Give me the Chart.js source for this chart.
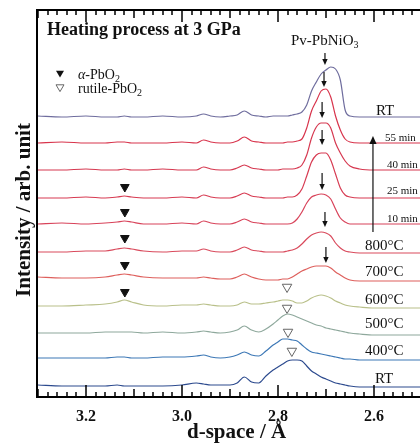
<!DOCTYPE html>
<html>
<head>
<meta charset="utf-8">
<script src="https://cdn.jsdelivr.net/npm/chart.js@4.4.1/dist/chart.umd.min.js"></script>
<style>
  html, body { margin: 0; padding: 0; background: #fff; overflow: hidden; }
  #chart { display: block; }
</style>
</head>
<body>
<canvas id="chart" width="420" height="445"></canvas>
<script>
const dSpace = [3.30, 3.25, 3.20, 3.16, 3.135, 3.12, 3.105, 3.08, 3.04, 3.00, 2.97,
  2.955, 2.94, 2.92, 2.90, 2.885, 2.87, 2.855, 2.84, 2.825, 2.81, 2.80, 2.79, 2.78,
  2.77, 2.76, 2.75, 2.74, 2.73, 2.72, 2.71, 2.70, 2.69, 2.68, 2.67, 2.66, 2.65,
  2.63, 2.60, 2.55, 2.50];

// top to bottom
const traceLabels = ['RT', '55 min', '40 min', '25 min', '10 min', '800°C', '700°C', '600°C', '500°C', '400°C', 'RT'];
const traceOffsets = [280, 254, 227, 199, 173, 145, 118, 91, 64, 39, 11];

const rtAfter = [1, 0, 1, 0, 0, 1, 0, 0, 1, 0, 1, 3, 1, 0, 1, 2, 6, 2, 1, 0, 1, 1, 1, 1, 2, 3, 5, 12, 26, 35, 43, 47, 50, 48, 37, 7, 1, 0, 0, 0, 0];
const min55 = [0, 1, 0, 0, 1, 1, 0, 0, 0, 1, 0, 3, 1, 0, 0, 2, 6, 2, 1, 0, 0, 0, 0, 1, 1, 2, 4, 15, 32, 42, 52, 54, 46, 27, 13, 4, 1, 0, 0, 0, 0];
const min40 = [0, 0, 1, 0, 0, 1, 0, 0, 1, 0, 0, 3, 1, 0, 0, 2, 5, 2, 1, 0, 0, 0, 1, 1, 1, 2, 5, 15, 32, 43, 47, 47, 42, 27, 17, 9, 4, 1, 0, 0, 0];
const min25 = [0, 0, 1, 0, 1, 2, 1, 0, 0, 1, 0, 3, 1, 0, 0, 2, 5, 2, 1, 0, 0, 0, 0, 1, 1, 3, 9, 22, 36, 43, 45, 45, 38, 24, 10, 3, 1, 0, 0, 0, 0];
const min10 = [0, 1, 0, 1, 2, 3, 2, 0, 0, 1, 0, 3, 1, 0, 0, 2, 5, 2, 1, 0, 0, 0, 0, 0, 1, 5, 12, 21, 27, 29, 30, 29, 25, 15, 6, 2, 0, 0, 0, 0, 0];
const t800 = [0, 0, 1, 1, 3, 4, 3, 1, 0, 1, 1, 3, 1, 0, 0, 2, 5, 2, 1, 0, 0, 0, 0, 1, 2, 4, 8, 13, 17, 19, 20, 19, 16, 9, 4, 1, 0, -1, -1, -1, -1];
const t700 = [2, 1, 1, 2, 4, 5, 4, 2, 1, 1, 1, 2, 1, 0, 0, 2, 5, 2, 0, -1, -1, -1, 0, 0, 2, 5, 8, 10, 12, 13, 13, 13, 11, 7, 4, 1, -1, -2, -2, -2, -2];
const t600 = [0, 0, 1, 2, 4, 6, 4, 1, 0, 1, 1, 2, 1, 0, 0, 1, 4, 2, 2, 3, 4, 5, 6, 6, 5, 3, 3, 5, 8, 10, 11, 10, 8, 5, 3, 1, 0, -1, -2, -2, -2];
const t500 = [0, 0, 0, 1, 1, 1, 1, 0, 1, 0, 1, 2, 1, 0, 1, 3, 7, 3, 1, 4, 9, 13, 17, 19, 18, 16, 14, 12, 10, 8, 7, 5, 4, 3, 2, 1, 0, -1, -2, -2, -2];
const t400 = [0, 0, 0, 0, 1, 1, 0, 0, 1, 1, 2, 3, 1, 0, 1, 3, 6, 3, 2, 7, 13, 16, 19, 19, 18, 17, 13, 9, 6, 5, 4, 3, 2, 1, 0, -1, -1, -2, -2, -2, -2];
const rtStart = [1, 0, 0, 0, 1, 0, 0, 0, 0, 1, 3, 2, 1, 1, 1, 3, 9, 4, 3, 10, 16, 19, 22, 25, 26, 26, 25, 20, 15, 12, 9, 7, 5, 3, 2, 1, 0, -1, -1, -1, -1];

const traceValues = [rtAfter, min55, min40, min25, min10, t800, t700, t600, t500, t400, rtStart];
const traceColors = ['#6f6d9e', '#d8344c', '#d63850', '#d73b52', '#d8435a', '#d94a5c', '#de5f5c', '#b9c08a', '#8ea89c', '#3d78b6', '#2c4a8e'];

const xTickLabels = [3.2, 3.0, 2.8, 2.6];

// peak markers
const alphaPeakD = [3.119, 3.119, 3.119, 3.119, 3.119];
const alphaMarkY = [210, 185, 159, 132, 105];
const rutilePeakD = [2.781, 2.781, 2.779, 2.771];
const rutileMarkY = [110, 89, 65, 46];
// Pv-PbNiO3 arrows (tail -> tip)
const pvArrowD = [2.702, 2.704, 2.708, 2.708, 2.708, 2.702, 2.700];
const pvArrowTail = [344, 325, 295, 267, 224, 185, 150];
const pvArrowTip = [332, 310, 279, 252, 207, 170, 134];

const SERIF = '"Liberation Serif", "Times New Roman", serif';

function drawRuns(ctx, x, y, runs) {
  runs.forEach(r => {
    ctx.font = r.font;
    ctx.fillText(r.text, x, y + (r.dy || 0));
    x += ctx.measureText(r.text).width;
  });
}

function arrow(ctx, x, y1, y2, head) {
  const dir = y2 > y1 ? 1 : -1;
  ctx.beginPath();
  ctx.moveTo(x, y1);
  ctx.lineTo(x, y2 - dir * head);
  ctx.stroke();
  ctx.beginPath();
  ctx.moveTo(x, y2);
  ctx.lineTo(x - head * 0.45, y2 - dir * head);
  ctx.lineTo(x + head * 0.45, y2 - dir * head);
  ctx.closePath();
  ctx.fill();
}

function downTriangle(ctx, cx, cy, w, filled) {
  ctx.beginPath();
  ctx.moveTo(cx - w / 2, cy - w * 0.4);
  ctx.lineTo(cx + w / 2, cy - w * 0.4);
  ctx.lineTo(cx, cy + w * 0.45);
  ctx.closePath();
  if (filled) ctx.fill(); else ctx.stroke();
}

const decorations = {
  id: 'decorations',
  afterDatasetsDraw(chart) {
    const { ctx, chartArea: a, scales: { x, y } } = chart;
    ctx.save();
    ctx.fillStyle = '#000';

    // top frame line
    ctx.fillRect(a.left - 1, a.top - 1, 420 - a.left + 1, 2);

    // inward ticks every 0.02, top and bottom
    const k0 = Math.ceil(x.min * 50), k1 = Math.floor(x.max * 50);
    for (let k = k0; k <= k1; k++) {
      const len = k % 10 === 0 ? 12 : (k % 5 === 0 ? 8 : 5);
      const px = Math.round(x.getPixelForValue(k / 50));
      ctx.fillRect(px - 0.75, a.bottom - len, 1.5, len);
      ctx.fillRect(px - 0.75, a.top, 1.5, len);
    }

    // tick labels
    ctx.fillStyle = '#111';
    ctx.textAlign = 'center';
    ctx.textBaseline = 'alphabetic';
    ctx.font = `bold 16px ${SERIF}`;
    xTickLabels.forEach(v => ctx.fillText(v.toFixed(1), x.getPixelForValue(v), 421));

    // Pv arrows
    ctx.strokeStyle = '#111';
    ctx.lineWidth = 1.2;
    pvArrowD.forEach((d, i) => {
      arrow(ctx, x.getPixelForValue(d), y.getPixelForValue(pvArrowTail[i]), y.getPixelForValue(pvArrowTip[i]), 6);
    });
    // time arrow
    arrow(ctx, x.getPixelForValue(2.602), y.getPixelForValue(165), y.getPixelForValue(261), 8);

    // legend symbols
    downTriangle(ctx, 60, 74, 8, true);
    ctx.strokeStyle = '#666';
    ctx.lineWidth = 1;
    downTriangle(ctx, 60, 88, 8, false);

    // texts
    ctx.textAlign = 'left';
    drawRuns(ctx, 47, 35, [{ text: 'Heating process at 3 GPa', font: `bold 18px ${SERIF}` }]);

    drawRuns(ctx, 78, 79, [
      { text: 'α', font: `italic 14px ${SERIF}` },
      { text: '-PbO', font: `14px ${SERIF}` },
      { text: '2', font: `10px ${SERIF}`, dy: 3 }
    ]);
    drawRuns(ctx, 78, 93, [
      { text: 'rutile-PbO', font: `14px ${SERIF}` },
      { text: '2', font: `10px ${SERIF}`, dy: 3 }
    ]);

    drawRuns(ctx, 291, 45, [
      { text: 'Pv-PbNiO', font: `15px ${SERIF}` },
      { text: '3', font: `10px ${SERIF}`, dy: 3 }
    ]);

    // trace labels on the right
    const labelPos = [[376, 115, 15], [385, 141, 11], [387, 168, 11], [387, 194, 11], [387, 222, 11],
      [365, 250, 15], [365, 276, 15], [365, 304, 15], [365, 328, 15], [365, 355, 15], [375, 383, 15]];
    traceLabels.forEach((lab, i) => {
      const [lx, ly, fs] = labelPos[i];
      ctx.font = `${fs}px ${SERIF}`;
      ctx.fillText(lab, lx, ly);
    });

    // axis titles
    ctx.font = `bold 21px ${SERIF}`;
    ctx.fillText('d-space / Å', 187, 438);
    ctx.save();
    ctx.translate(25, 210);
    ctx.rotate(-Math.PI / 2);
    ctx.textAlign = 'center';
    ctx.textBaseline = 'middle';
    ctx.font = `bold 21px ${SERIF}`;
    ctx.fillText('Intensity / arb. unit', 0, 0);
    ctx.restore();

    ctx.restore();
  }
};

const datasets = traceValues.map((vals, i) => ({
  label: traceLabels[i],
  data: dSpace.map((d, j) => ({ x: d, y: traceOffsets[i] + vals[j] })),
  borderColor: traceColors[i],
  borderWidth: 1.2,
  pointRadius: 0,
  cubicInterpolationMode: 'monotone',
  fill: false
}));

datasets.push({
  label: 'alpha-PbO2',
  data: alphaPeakD.map((d, i) => ({ x: d, y: alphaMarkY[i] })),
  showLine: false,
  pointStyle: 'triangle',
  pointRotation: 180,
  pointRadius: 5,
  pointBackgroundColor: '#111',
  pointBorderColor: '#111',
  pointBorderWidth: 1
});
datasets.push({
  label: 'rutile-PbO2',
  data: rutilePeakD.map((d, i) => ({ x: d, y: rutileMarkY[i] })),
  showLine: false,
  pointStyle: 'triangle',
  pointRotation: 180,
  pointRadius: 5.5,
  pointBackgroundColor: '#fff',
  pointBorderColor: '#666',
  pointBorderWidth: 1
});

new Chart(document.getElementById('chart'), {
  type: 'line',
  data: { datasets },
  options: {
    responsive: false,
    animation: false,
    devicePixelRatio: 1,
    layout: { autoPadding: false, padding: { top: 10, right: 0, left: 0, bottom: 0 } },
    plugins: { legend: { display: false }, tooltip: { enabled: false } },
    scales: {
      x: {
        type: 'linear',
        reverse: true,
        min: 2.504,
        max: 3.302,
        grid: { display: false, drawTicks: false },
        border: { display: true, color: '#000', width: 2 },
        afterFit: axis => { axis.height = 48; },
        ticks: { display: false, stepSize: 0.02 }
      },
      y: {
        min: 0,
        max: 387,
        grid: { display: false, drawTicks: false },
        border: { display: true, color: '#000', width: 2 },
        ticks: { display: false },
        afterFit: axis => { axis.width = 37; }
      }
    }
  },
  plugins: [decorations]
});
</script>
</body>
</html>
